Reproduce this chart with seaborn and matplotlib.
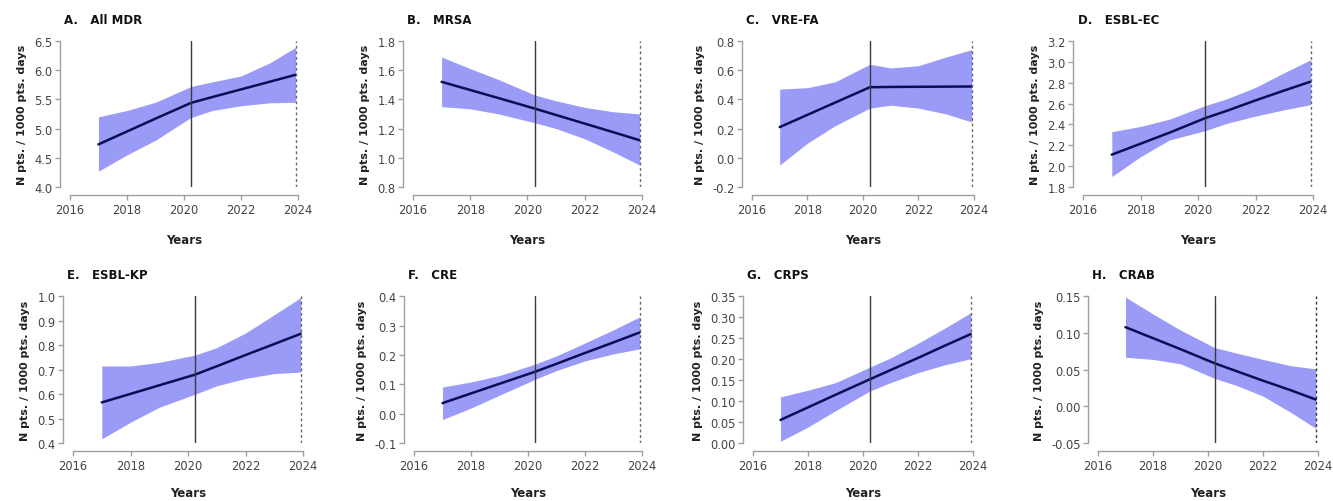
import numpy as np
import pandas as pd
import seaborn as sns
import matplotlib.pyplot as plt
import matplotlib.ticker as mticker

# time grid shared by all panels (break at 2020.25, forecast end ~2023.92)
years = [2017, 2018, 2019, 2020.25, 2021, 2022, 2023, 2023.92]
break_year = 2020.25
end_year = 2023.92

titles = ["A.   All MDR", "B.   MRSA", "C.   VRE-FA", "D.   ESBL-EC",
          "E.   ESBL-KP", "F.   CRE", "G.   CRPS", "H.   CRAB"]

mdr_mean = [4.73, 4.95, 5.17, 5.44, 5.54, 5.67, 5.80, 5.92]
mdr_low = [4.27, 4.55, 4.80, 5.19, 5.31, 5.39, 5.44, 5.45]
mdr_high = [5.20, 5.31, 5.45, 5.72, 5.80, 5.90, 6.12, 6.39]

mrsa_mean = [1.52, 1.464, 1.408, 1.337, 1.293, 1.234, 1.175, 1.12]
mrsa_low = [1.35, 1.335, 1.30, 1.24, 1.20, 1.13, 1.04, 0.95]
mrsa_high = [1.69, 1.61, 1.535, 1.43, 1.39, 1.345, 1.315, 1.30]

vre_mean = [0.21, 0.294, 0.378, 0.483, 0.485, 0.486, 0.487, 0.488]
vre_low = [-0.05, 0.10, 0.22, 0.34, 0.36, 0.34, 0.30, 0.245]
vre_high = [0.47, 0.48, 0.52, 0.64, 0.615, 0.63, 0.69, 0.74]

esblec_mean = [2.11, 2.215, 2.32, 2.46, 2.53, 2.63, 2.725, 2.81]
esblec_low = [1.90, 2.09, 2.25, 2.34, 2.41, 2.48, 2.54, 2.59]
esblec_high = [2.33, 2.38, 2.45, 2.58, 2.645, 2.755, 2.895, 3.02]

esblkp_mean = [0.566, 0.601, 0.636, 0.68, 0.714, 0.76, 0.805, 0.847]
esblkp_low = [0.417, 0.485, 0.546, 0.60, 0.634, 0.664, 0.684, 0.69]
esblkp_high = [0.715, 0.715, 0.73, 0.76, 0.79, 0.85, 0.925, 0.995]

cre_mean = [0.036, 0.069, 0.102, 0.143, 0.170, 0.207, 0.243, 0.277]
cre_low = [-0.02, 0.019, 0.063, 0.117, 0.147, 0.18, 0.204, 0.221]
cre_high = [0.091, 0.108, 0.13, 0.169, 0.197, 0.241, 0.286, 0.33]

crps_mean = [0.055, 0.085, 0.115, 0.152, 0.174, 0.203, 0.233, 0.26]
crps_low = [0.004, 0.038, 0.077, 0.124, 0.144, 0.168, 0.187, 0.201]
crps_high = [0.11, 0.126, 0.144, 0.181, 0.203, 0.238, 0.275, 0.311]

crab_mean = [0.108, 0.093, 0.078, 0.0586, 0.0485, 0.035, 0.0221, 0.0093]
crab_low = [0.067, 0.064, 0.058, 0.038, 0.029, 0.014, -0.008, -0.030]
crab_high = [0.149, 0.126, 0.104, 0.080, 0.073, 0.064, 0.0555, 0.051]

y_ticks = [
    [4.0, 4.5, 5.0, 5.5, 6.0, 6.5],
    [0.8, 1.0, 1.2, 1.4, 1.6, 1.8],
    [-0.2, 0.0, 0.2, 0.4, 0.6, 0.8],
    [1.8, 2.0, 2.2, 2.4, 2.6, 2.8, 3.0, 3.2],
    [0.4, 0.5, 0.6, 0.7, 0.8, 0.9, 1.0],
    [-0.1, 0.0, 0.1, 0.2, 0.3, 0.4],
    [0.0, 0.05, 0.10, 0.15, 0.20, 0.25, 0.30, 0.35],
    [-0.05, 0.0, 0.05, 0.10, 0.15],
]
y_fmt = ["%.1f"] * 6 + ["%.2f", "%.2f"]
x_ticks = [2016, 2018, 2020, 2022, 2024]

series = [
    (mdr_mean, mdr_low, mdr_high),
    (mrsa_mean, mrsa_low, mrsa_high),
    (vre_mean, vre_low, vre_high),
    (esblec_mean, esblec_low, esblec_high),
    (esblkp_mean, esblkp_low, esblkp_high),
    (cre_mean, cre_low, cre_high),
    (crps_mean, crps_low, crps_high),
    (crab_mean, crab_low, crab_high),
]

sns.set_theme(style="ticks")
plt.rcParams['font.family'] = ['DejaVu Sans']

fig = plt.figure(figsize=(13.33, 5.02), dpi=100)

# axes boxes (left, bottom, width, height) in figure fractions
lefts_top = [0.0525, 0.3098, 0.5641, 0.8125]
widths_top = [0.171, 0.1718, 0.1665, 0.1725]
lefts_bot = [0.0548, 0.3106, 0.5649, 0.8237]
widths_bot = [0.1725, 0.171, 0.165, 0.165]

boxes = [(l, 0.6255, w, 0.291) for l, w in zip(lefts_top, widths_top)] + \
        [(l, 0.1156, w, 0.292) for l, w in zip(lefts_bot, widths_bot)]

band_col = "#9a9af7"
line_col = "#0d0d55"
axis_col = "#a0a0a0"

for i, (box, title, (m, lo, hi)) in enumerate(zip(boxes, titles, series)):
    ax = fig.add_axes(box)
    df = pd.DataFrame({"Years": years, "mean": m, "low": lo, "high": hi})
    ax.fill_between(df["Years"], df["low"], df["high"], color=band_col, lw=0, zorder=1)
    sns.lineplot(data=df, x="Years", y="mean", ax=ax, color=line_col, lw=1.8, zorder=3)
    ax.axvline(break_year, color="#3a3a3a", lw=1.0, zorder=4)
    ax.axvline(end_year, color="#333333" if i == 7 else "#666666", lw=1.0,
               linestyle=(0, (2, 2)), zorder=4)

    yt = y_ticks[i]
    ax.set_xlim(2016, 2024)
    ax.set_ylim(yt[0], yt[-1])
    ax.set_xticks(x_ticks)
    ax.set_yticks(yt)
    ax.yaxis.set_major_formatter(mticker.FormatStrFormatter(y_fmt[i]))

    sns.despine(ax=ax)
    ax.spines['left'].set_position(('outward', 7))
    ax.spines['bottom'].set_position(('outward', 6))
    for s in ['left', 'bottom']:
        ax.spines[s].set_color(axis_col)
        ax.spines[s].set_linewidth(1.0)
    ax.tick_params(axis='both', length=3.5, width=1.0, color=axis_col,
                   labelsize=8.3, labelcolor="#444444", pad=2)

    ax.set_xlabel("Years", fontsize=8.5, fontweight="bold",
                  labelpad=12 if i < 4 else 10, color="#222222")
    ax.set_ylabel("N pts. / 1000 pts. days", fontsize=8, fontweight="bold",
                  labelpad=5, color="#222222")
    ax.annotate(title, xy=(0, 1), xycoords="axes fraction", xytext=(-4, 11),
                textcoords="offset points", fontsize=8.5, fontweight="bold",
                ha="left", va="bottom", color="#111111")

fig.savefig("out.png", dpi=100, facecolor="white")
